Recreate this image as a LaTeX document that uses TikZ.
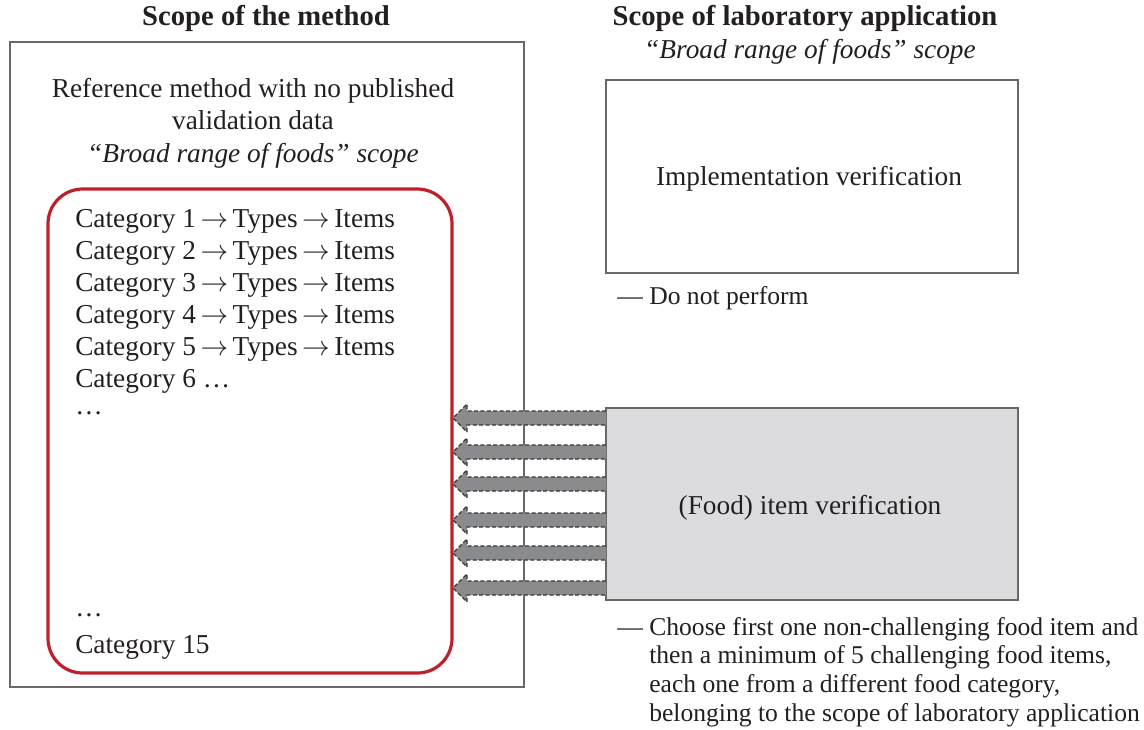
\documentclass[tikz,border=0pt]{standalone}
\usepackage{fontspec}
\setmainfont{Liberation Serif}
\usetikzlibrary{calc}
\definecolor{boxgrey}{HTML}{6B6767}
\definecolor{redc}{HTML}{C0202A}
\definecolor{foodfill}{HTML}{DCDCDE}
\definecolor{arrowfill}{HTML}{8A8B8D}
\definecolor{txt}{HTML}{231F20}
\newcommand{\ar}{\,$\rightarrow$\,}
\tikzset{
  x=0.75pt,y=-0.75pt,
  every node/.style={text=txt,font=\fontsize{20.5}{24.5}\selectfont,inner sep=0pt},
  outerbox/.style={draw=boxgrey,line width=1.9pt},
  redbox/.style={draw=redc,line width=2.4pt,rounded corners=26pt},
  labbox/.style={draw=boxgrey,line width=1.3pt},
  titletext/.style={font=\fontsize{21.5}{24}\selectfont\bfseries},
  fatarrow/.style={draw=txt!90,fill=arrowfill,dashed,dash pattern=on 3pt off 1.8pt,line width=1pt,line join=miter},
  cat/.style={anchor=west},
  small/.style={font=\fontsize{19.2}{21.5}\selectfont},
}
\begin{document}
\begin{tikzpicture}
\useasboundingbox (0,0) rectangle (1144,729);
% left side
\node[titletext] (t1) at (266,18) {Scope of the method};
\draw[outerbox] (10,42) rectangle (524,687);
\node[align=center] (refm) at (253,123) {Reference method with no published\\validation data\\\itshape “Broad range of foods” scope};
\draw[redbox] (48,189) rectangle (452,673);
\node[cat] (c1) at (75,221) {Category 1\ar Types\ar Items};
\node[cat] (c2) at (75,253) {Category 2\ar Types\ar Items};
\node[cat] (c3) at (75,285) {Category 3\ar Types\ar Items};
\node[cat] (c4) at (75,317) {Category 4\ar Types\ar Items};
\node[cat] (c5) at (75,349) {Category 5\ar Types\ar Items};
\node[cat] (c6) at (75,381) {Category 6 …};
\node[cat] (d1) at (75,413) {…};
\node[cat] (d2) at (75,615) {…};
\node[cat] (c15) at (75,647) {Category 15};
% right side
\node[titletext] (t2) at (805,18) {Scope of laboratory application};
\node (t2b) at (810,52) {\itshape “Broad range of foods” scope};
\draw[labbox] (606,80) rectangle (1018,273);
\node (impl) at (809,179) {Implementation verification};
\node[anchor=west,small] (dnp) at (617,298) {— Do not perform};
\draw[labbox,fill=foodfill] (606,408) rectangle (1018,600);
\node (food) at (810,508) {(Food) item verification};
\node[anchor=north west,align=left,small] (note) at (617,617) {— Choose first one non-challenging food item and\\
\phantom{— }then a minimum of 5 challenging food items,\\
\phantom{— }each one from a different food category,\\
\phantom{— }belonging to the scope of laboratory application};
% arrows from the food box to the category box
\foreach \y in {418,452,484,520,553,588}{
  \draw[fatarrow] (606,\y-7) -- (467,\y-7) -- (467,\y-14) -- (453,\y) -- (467,\y+14) -- (467,\y+7) -- (606,\y+7);
}
\end{tikzpicture}
\end{document}
